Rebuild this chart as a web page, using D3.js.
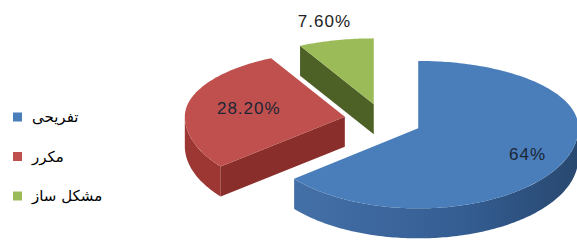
<!DOCTYPE html>
<html>
<head>
<meta charset="utf-8">
<script src="https://cdn.jsdelivr.net/npm/d3@7"></script>
<style>
  body { margin: 0; background: #fff; }
  svg { display: block; }
</style>
</head>
<body>
<svg id="chart" width="577" height="242"></svg>
<script>
// chart data
var categories = ["تفریحی", "مکرر", "مشکل ساز"];
var values = [64, 28.2, 7.6];
var labels = ["64%", "28.20%", "7.60%"];

var topColors = ["#4a7ebb", "#c0504d", "#9bbb59"];
var wallColors = ["url(#blueWall)", "#9c3734", "#5e742f"];
var faceColors = ["#34598a", "#8a2e2c", "#4d6026"];

var svg = d3.select("#chart");

var defs = svg.append("defs");
var g1 = defs.append("linearGradient").attr("id", "blueWall")
    .attr("x1", "0%").attr("x2", "100%").attr("y1", "0%").attr("y2", "0%");
g1.append("stop").attr("offset", "0%").attr("stop-color", "#4470a8");
g1.append("stop").attr("offset", "60%").attr("stop-color", "#345d92");
g1.append("stop").attr("offset", "100%").attr("stop-color", "#28486f");

// pseudo 3d geometry
var cx = 383, cy = 120;
var r = 160, depth = 30, explode = 39;
var kBack = 66 / 160, kFront = 80 / 160;

function proj(X, Z, dy) {
    var k = Z < 0 ? kBack : kFront;
    return [cx + X, cy + Z * k + (dy || 0)];
}

var pie = d3.pie().sort(null).value(function(d) { return d; });
var arcs = pie(values);
var total = d3.sum(values);

function rim(a, off, rr, dy) {
    return proj(off[0] + rr * Math.sin(a), off[1] - rr * Math.cos(a), dy);
}

function arcPts(a0, a1, off, dy) {
    var pts = [];
    var n = Math.max(2, Math.ceil((a1 - a0) / (Math.PI / 180)));
    for (var i = 0; i <= n; i++) {
        pts.push(rim(a0 + (a1 - a0) * i / n, off, r, dy));
    }
    return pts;
}

var line = d3.line();

// draw back slices first
var order = [2, 1, 0];
order.forEach(function(i) {
    var d = arcs[i];
    var m = (d.startAngle + d.endAngle) / 2;
    var off = [explode * Math.sin(m), -explode * Math.cos(m)];
    var g = svg.append("g");

    // outer wall (front half only)
    var w0 = Math.max(d.startAngle, Math.PI / 2),
        w1 = Math.min(d.endAngle, 3 * Math.PI / 2);
    if (w1 > w0) {
        var pts = arcPts(w0, w1, off, 0).concat(arcPts(w0, w1, off, depth).reverse());
        g.append("path").attr("d", line(pts) + "Z").attr("fill", wallColors[i]);
    }

    // radial faces facing the viewer
    [[d.startAngle, -Math.sin(d.startAngle)], [d.endAngle, Math.sin(d.endAngle)]].forEach(function(f) {
        if (f[1] > 0.01) {
            var c0 = proj(off[0], off[1], 0), c1 = proj(off[0], off[1], depth);
            var e0 = rim(f[0], off, r, 0), e1 = rim(f[0], off, r, depth);
            g.append("path").attr("d", line([c0, e0, e1, c1]) + "Z").attr("fill", faceColors[i]);
        }
    });

    // top face
    var top = [proj(off[0], off[1], 0)].concat(arcPts(d.startAngle, d.endAngle, off, 0));
    g.append("path").attr("d", line(top) + "Z").attr("fill", topColors[i]);
});

// data labels
arcs.forEach(function(d, i) {
    var m = (d.startAngle + d.endAngle) / 2;
    var off = [explode * Math.sin(m), -explode * Math.cos(m)];
    var inside = (d.endAngle - d.startAngle) > 0.8;
    var f = 0.5 + 0.4 * d.value / total;
    var p = rim(m, off, inside ? r * f : r * 1.3, 0);
    svg.append("text")
        .attr("x", p[0])
        .attr("y", p[1])
        .attr("text-anchor", "middle")
        .attr("dominant-baseline", "central")
        .style("font-family", "Liberation Sans, Arial, sans-serif")
        .style("font-size", "17px")
        .style("letter-spacing", "1px")
        .attr("fill", inside ? "#1a2536" : "#222")
        .text(labels[i]);
});

// legend
var legend = svg.append("g").attr("transform", "translate(13,117)");
categories.forEach(function(c, i) {
    var row = legend.append("g").attr("transform", "translate(0," + (i * 39.5) + ")");
    row.append("rect")
        .attr("x", 0).attr("y", -4.5)
        .attr("width", 9).attr("height", 9)
        .attr("fill", topColors[i]);
    row.append("text")
        .attr("x", 19)
        .attr("y", 0)
        .attr("dominant-baseline", "central")
        .attr("text-anchor", "start")
        .style("font-family", "DejaVu Sans, sans-serif")
        .style("font-size", "15px")
        .attr("fill", "#000")
        .text(c);
});
</script>
</body>
</html>
